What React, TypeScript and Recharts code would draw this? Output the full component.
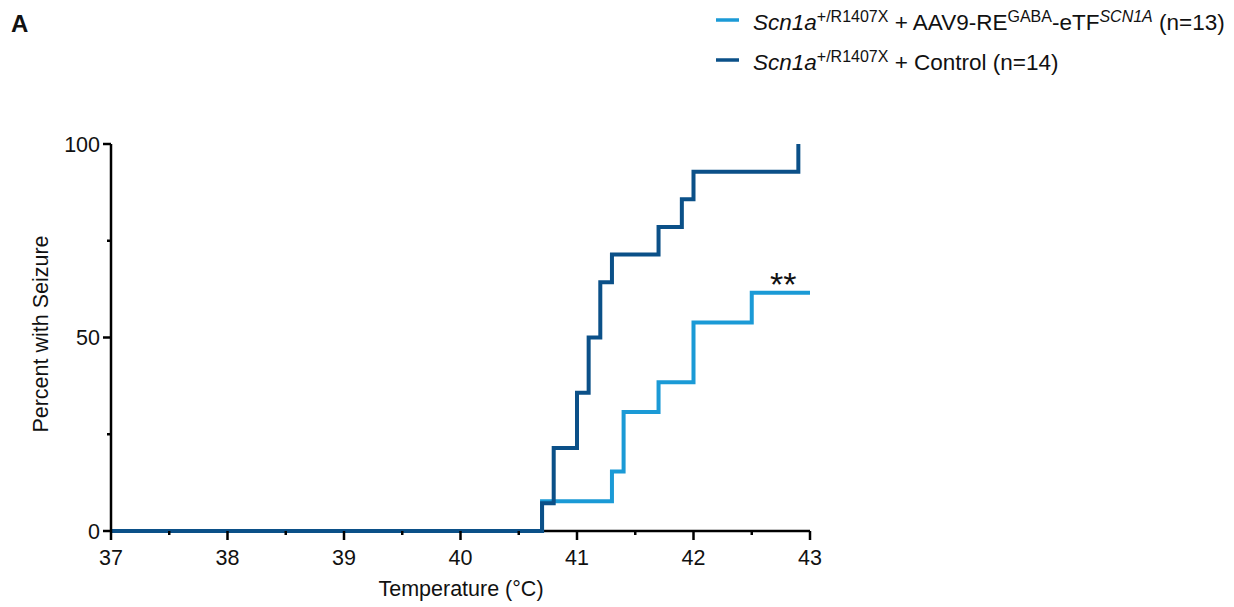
import React from 'react';
import { LineChart, Line, XAxis, YAxis, ReferenceDot, ReferenceLine } from 'recharts';

// Kaplan-Meier style step data: temperature (°C) vs cumulative % with seizure
const treatedTemps = [37, 40.7, 41.3, 41.4, 41.7, 42.0, 42.5, 43];
const treatedPct = [0, 7.69, 15.38, 30.77, 38.46, 53.85, 61.54, 61.54];

const controlTemps = [37, 40.7, 40.8, 41.0, 41.1, 41.2, 41.3, 41.7, 41.9, 42.0, 42.9];
const controlPct = [0, 7.14, 21.43, 35.71, 50, 64.29, 71.43, 78.57, 85.71, 92.86, 100];

const xTicks = [37, 37.5, 38, 38.5, 39, 39.5, 40, 40.5, 41, 41.5, 42, 42.5, 43];
const yTicks = [0, 25, 50, 75, 100];
const yLabelled = [0, 50, 100];

const LIGHT = '#1b9ad6';
const DARK = '#0b5088';
const FONT = '"Liberation Sans", Arial, sans-serif';

const treatedData = treatedTemps.map((t, i) => ({ t, pct: treatedPct[i] }));
const controlData = controlTemps.map((t, i) => ({ t, pct: controlPct[i] }));

// eslint-disable-next-line @typescript-eslint/no-explicit-any
const XTick = ({ x, y, payload }: any) => {
    const major = Number.isInteger(payload.value);
    return (
        <g>
            <line x1={x} x2={x} y1={y} y2={y + (major ? 9 : 4)} stroke="#000" strokeWidth={2.5} />
            {major && (
                <text x={x} y={y + 34} textAnchor="middle" fontSize={21.5} fontFamily={FONT} fill="#111">
                    {payload.value}
                </text>
            )}
        </g>
    );
};

// eslint-disable-next-line @typescript-eslint/no-explicit-any
const YTick = ({ x, y, payload }: any) => {
    const major = yLabelled.includes(payload.value);
    return (
        <g>
            <line x1={x - (major ? 8 : 4)} x2={x} y1={y} y2={y} stroke="#000" strokeWidth={2.5} />
            {major && (
                <text x={x - 11} y={y + 7.5} textAnchor="end" fontSize={21.5} fontFamily={FONT} fill="#111">
                    {payload.value}
                </text>
            )}
        </g>
    );
};

// eslint-disable-next-line @typescript-eslint/no-explicit-any
const Stars = ({ viewBox }: any) => (
    <text x={viewBox.x} y={viewBox.y + 3} textAnchor="middle" fontSize={34} fontFamily={FONT} fill="#111">
        **
    </text>
);

export default function App() {
    return (
        <div style={{ position: 'absolute', left: 0, top: 0, width: 1234, height: 607, background: '#fff' }}>
            <LineChart
                width={1234}
                height={607}
                margin={{ top: 144, right: 424, left: 51, bottom: 46 }}
            >
                <XAxis
                    dataKey="t"
                    type="number"
                    domain={[37, 43]}
                    ticks={xTicks}
                    interval={0}
                    height={30}
                    tickSize={0}
                    tickMargin={0}
                    tickLine={false}
                    axisLine={false}
                    tick={<XTick />}
                />
                <YAxis
                    dataKey="pct"
                    type="number"
                    domain={[0, 100]}
                    ticks={yTicks}
                    interval={0}
                    width={60}
                    tickSize={0}
                    tickMargin={0}
                    tickLine={false}
                    axisLine={{ stroke: '#000', strokeWidth: 2.5 }}
                    tick={<YTick />}
                />
                <ReferenceLine y={0} stroke="#000" strokeWidth={2.5} />
                <Line
                    data={treatedData}
                    dataKey="pct"
                    type="stepAfter"
                    stroke={LIGHT}
                    strokeWidth={4}
                    dot={false}
                    activeDot={false}
                    isAnimationActive={false}
                />
                <Line
                    data={controlData}
                    dataKey="pct"
                    type="stepAfter"
                    stroke={DARK}
                    strokeWidth={4}
                    dot={false}
                    activeDot={false}
                    isAnimationActive={false}
                />
                <ReferenceDot x={42.77} y={61.54} r={0} fill="none" stroke="none" label={<Stars />} />
            </LineChart>

            <svg
                width={1234}
                height={607}
                style={{ position: 'absolute', left: 0, top: 0, pointerEvents: 'none' }}
                fontFamily={FONT}
                fill="#111"
            >
                <text x={11} y={32} fontSize={24} fontWeight="bold">A</text>

                <line x1={716} x2={739} y1={20} y2={20} stroke={LIGHT} strokeWidth={3.5} />
                <text x={753} y={29.5} fontSize={22.5}>
                    <tspan fontStyle="italic">Scn1a</tspan>
                    <tspan fontSize={16} dy={-8}>+/R1407X</tspan>
                    <tspan dy={8}> + AAV9-RE</tspan>
                    <tspan fontSize={16} dy={-8}>GABA</tspan>
                    <tspan dy={8}>-eTF</tspan>
                    <tspan fontSize={16} dy={-8} fontStyle="italic">SCN1A</tspan>
                    <tspan dy={8}> (n=13)</tspan>
                </text>

                <line x1={716} x2={739} y1={60} y2={60} stroke={DARK} strokeWidth={3.5} />
                <text x={753} y={69.5} fontSize={22.5}>
                    <tspan fontStyle="italic">Scn1a</tspan>
                    <tspan fontSize={16} dy={-8}>+/R1407X</tspan>
                    <tspan dy={8}> + Control (n=14)</tspan>
                </text>

                <text x={461} y={596} fontSize={21.5} textAnchor="middle">Temperature (°C)</text>
                <text
                    x={48}
                    y={334}
                    fontSize={21.5}
                    textAnchor="middle"
                    transform="rotate(-90 48 334)"
                >
                    Percent with Seizure
                </text>
            </svg>
        </div>
    );
}
